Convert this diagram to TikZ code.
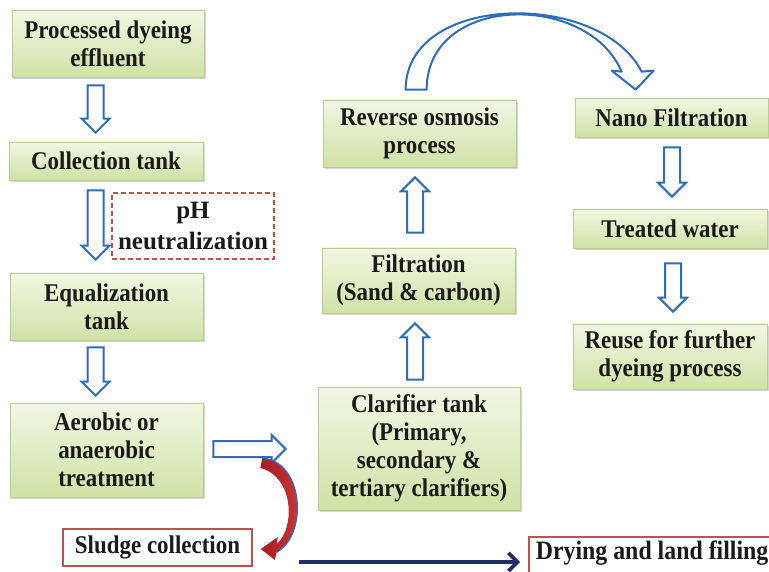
\documentclass[tikz,border=0pt]{standalone}
\usepackage{fontspec}
\setmainfont{Liberation Serif}[FakeStretch=0.9]
\newfontfamily\wideserif{Liberation Serif}
\usetikzlibrary{calc,shadows,arrows.meta}
\definecolor{boxtop}{HTML}{F1F7E3}
\definecolor{boxbot}{HTML}{CFE2A6}
\definecolor{boxline}{HTML}{B9CD93}
\definecolor{arrblue}{HTML}{2F6DB5}
\definecolor{dred}{HTML}{C0504D}
\definecolor{navyc}{HTML}{1F2D6B}
\definecolor{txt}{HTML}{1A1A1A}
\definecolor{sred}{HTML}{A81C20}
\definecolor{sredl}{HTML}{D23A3A}
\tikzset{
  gbox/.style={draw=boxline, line width=0.7pt, top color=boxtop, bottom color=boxbot,
    drop shadow={opacity=0.28, shadow xshift=1.5pt, shadow yshift=-2pt, fill=black!60},
    inner sep=0pt, align=center, text=txt, font=\fontsize{25.5}{28}\selectfont\bfseries},
  rbox/.style={draw=dred, line width=1.6pt, fill=white, inner sep=0pt, text=txt,
    font=\fontsize{25.5}{28}\selectfont\bfseries},
  dbox/.style={draw=dred, line width=1.4pt, dash pattern=on 5pt off 3pt, inner sep=0pt,
    align=center, text=txt, font=\wideserif\fontsize{25}{31}\selectfont\bfseries},
  blockarr/.style={draw=arrblue, line width=2pt, fill=white},
  navyarr/.style={draw=navyc, line width=3.6pt, -{Straight Barb[length=9pt,width=18pt]}},
}
\newcommand\blockarrow[2]{%
  \path coordinate (bah) at ($(#2)!14pt!(#1)$);
  \draw[blockarr] ($(#1)!8pt!90:(#2)$) -- ($(bah)!8pt!-90:(#1)$) -- ($(bah)!14pt!-90:(#1)$)
    -- (#2) -- ($(bah)!14pt!90:(#1)$) -- ($(bah)!8pt!90:(#1)$) -- ($(#1)!8pt!-90:(#2)$) -- cycle;
}
\begin{document}
\begin{tikzpicture}[x=1pt, y=-1pt]
\useasboundingbox (0,0) rectangle (769,572);
\clip (0,0) rectangle (769,572);
% left column
\node[gbox, minimum width=192pt, minimum height=67pt] (n1) at (108,43.5) {Processed dyeing\\effluent};
\node[gbox, minimum width=194pt, minimum height=38pt] (n2) at (106,161) {Collection tank};
\node[dbox, minimum width=162pt, minimum height=66pt] (ph) at (193,226) {pH\\neutralization};
\node[gbox, minimum width=193pt, minimum height=67pt] (n4) at (106.5,306.5) {Equalization\\tank};
\node[gbox, minimum width=193pt, minimum height=94pt] (n5) at (106.5,450) {Aerobic or\\anaerobic\\treatment};
\node[rbox, minimum width=189pt, minimum height=37pt] (sludge) at (157.5,547.5) {Sludge collection};
\node[rbox, anchor=north west, inner xsep=7pt, inner ysep=4pt, text depth=26pt,
  font=\fontsize{26.5}{28}\selectfont\bfseries] (dry) at (528,536) {Drying and land filling};
% middle column
\node[gbox, minimum width=202pt, minimum height=123pt] (clar) at (419,448.5) {Clarifier tank\\(Primary,\\secondary \&\\tertiary clarifiers)};
\node[gbox, minimum width=193pt, minimum height=65pt] (filt) at (418.5,280.5) {Filtration\\(Sand \& carbon)};
\node[gbox, minimum width=193pt, minimum height=67pt] (ro) at (419.5,133.5) {Reverse osmosis\\process};
% right column
\node[gbox, minimum width=193pt, minimum height=39pt] (nano) at (671.5,117.5) {Nano Filtration};
\node[gbox, minimum width=194pt, minimum height=39pt] (treat) at (670,228.5) {Treated water};
\node[gbox, minimum width=194pt, minimum height=65pt] (reuse) at (670,356.5) {Reuse for further\\dyeing process};
% straight block arrows
\coordinate (a1s) at ($(n1.south west)+(84,8)$);
\coordinate (a1e) at ($(a1s |- n2.north)+(0,-9)$);
\blockarrow{a1s}{a1e}
\coordinate (a2s) at ($(n2.south west)+(87,10)$);
\coordinate (a2e) at ($(a2s |- n4.north)+(0,-13)$);
\blockarrow{a2s}{a2e}
\coordinate (a3s) at ($(n4.south west)+(86,7)$);
\coordinate (a3e) at ($(a3s |- n5.north)+(0,-7)$);
\blockarrow{a3s}{a3e}
\coordinate (a4s) at ($(n5.east)+(10,-1)$);
\coordinate (a4e) at ($(a4s -| clar.west)+(-32,0)$);
\blockarrow{a4s}{a4e}
\coordinate (a5s) at ($(clar.north)+(-4,-7)$);
\coordinate (a5e) at ($(a5s |- filt.south)+(0,10)$);
\blockarrow{a5s}{a5e}
\coordinate (a6s) at ($(filt.north)+(-3.5,-15)$);
\coordinate (a6e) at ($(a6s |- ro.south)+(0,10)$);
\blockarrow{a6s}{a6e}
\coordinate (a7s) at ($(nano.south)+(0.5,10)$);
\coordinate (a7e) at ($(a7s |- treat.north)+(0,-12)$);
\blockarrow{a7s}{a7e}
\coordinate (a8s) at ($(treat.south)+(3,15)$);
\coordinate (a8e) at ($(a8s |- reuse.north)+(0,-12)$);
\blockarrow{a8s}{a8e}
% curved arrow RO -> Nano
\coordinate (c1) at ($(ro.north west)+(83,-10)$);
\coordinate (c2) at ($(ro.north west)+(104,-10)$);
\coordinate (c3) at ($(nano.north west)+(61,-8)$);
\draw[blockarr, line join=round] (c1) .. controls ($(c1)+(0,-97)$) and ($(c3)+(-36,-100)$) .. ($(c3)+(6,-18)$)
  -- ($(c3)+(18,-19)$) -- (c3) -- ($(c3)+(-24,-19)$) -- ($(c3)+(-14,-18)$)
  .. controls ($(c3)+(-48,-98)$) and ($(c2)+(0,-96)$) .. (c2) -- cycle;
% red curved arrow to sludge
\coordinate (r0) at ($(n5.east)+(57,12)$);
\coordinate (rt) at ($(sludge.east)+(8,1.5)$);
\shade[left color=sred, right color=sredl] ($(r0)+(2,-4)$) .. controls ($(r0)+(44,0)$) and ($(rt)+(47,-14)$) .. ($(rt)+(16,3)$)
  -- ($(rt)+(14,11)$) -- (rt) -- ($(rt)+(17,-12)$) -- ($(rt)+(16,-5)$)
  .. controls ($(rt)+(35,-22)$) and ($(r0)+(33,14)$) .. ($(r0)+(0,6)$) -- cycle;
\draw[arrblue, line width=1.3pt] ($(r0)+(2,-4)$) .. controls ($(r0)+(44,0)$) and ($(rt)+(47,-14)$) .. ($(rt)+(16,3)$);
% navy arrow sludge -> drying
\coordinate (nv1) at ($(sludge.east)+(46,14.5)$);
\coordinate (nv2) at ($(nv1 -| dry.west)+(-8,0)$);
\draw[navyarr] (nv1) -- (nv2);
\end{tikzpicture}
\end{document}
